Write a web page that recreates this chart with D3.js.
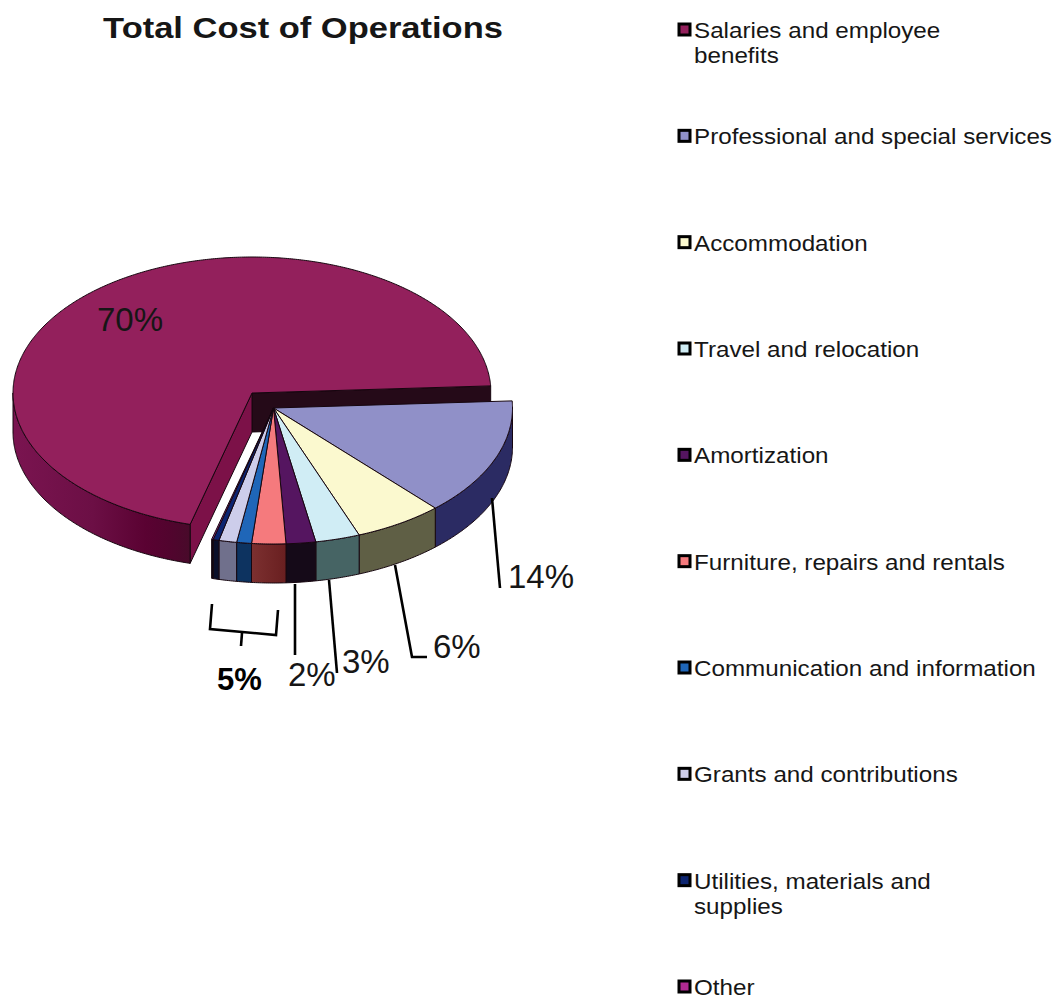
<!DOCTYPE html>
<html>
<head>
<meta charset="utf-8">
<title>Total Cost of Operations</title>
<script src="https://cdn.jsdelivr.net/npm/d3@7/dist/d3.min.js"></script>
<style>
  html, body { margin: 0; padding: 0; background: #fff; }
  svg { display: block; }
  text { font-family: "Liberation Sans", Arial, sans-serif; fill: #161616; }
</style>
</head>
<body>
<svg id="chart" width="1057" height="999"></svg>
<script>
// Share of total operating cost, in percent, clockwise from the large slice.
const categoryLines = [
  ["Salaries and employee", "benefits"],
  ["Professional and special services"],
  ["Accommodation"],
  ["Travel and relocation"],
  ["Amortization"],
  ["Furniture, repairs and rentals"],
  ["Communication and information"],
  ["Grants and contributions"],
  ["Utilities, materials and", "supplies"],
  ["Other"]
];
const shares = [70, 14, 6, 3, 2, 2.3, 1, 1.2, 0.4, 0.1];
const topColors = ["#93205c", "#9090c8", "#fbf9cf", "#d0edf5", "#551560", "#f57a7d", "#1f66b8", "#cdcdea", "#0c2470", "#a03090"];
const wallColors = ["url(#wallMain)", "#2b2b63", "#5f5f45", "#466464", "#150a18", "url(#wallFurniture)", "#0d3360", "#70708c", "#0a0f2a", "#0a0a14"];
const swatchColors = ["#93205c", "#9090c8", "#fbf9cf", "#d0edf5", "#551560", "#f57a7d", "#1f66b8", "#cdcdea", "#0c2470", "#b02a90"];

const svg = d3.select("#chart");

// Elliptical projection of the tilted pie.
const rx = 239, ry = 136, depth = 39;
const mainCentre = { x: 252, y: 393 };
const explodedCentre = { x: 273.5, y: 408 };
const deg = Math.PI / 180;

const pie = d3.pie().sort(null).value(d => d)
  .startAngle(195 * deg).endAngle((195 + 360) * deg);
const slices = pie(shares);

const defs = svg.append("defs");
function addGradient(id, stops) {
  const g = defs.append("linearGradient").attr("id", id)
    .attr("x1", "0%").attr("x2", "100%").attr("y1", "0%").attr("y2", "0%");
  stops.forEach(([o, c]) => g.append("stop").attr("offset", o).attr("stop-color", c));
}
addGradient("wallMain", [["0%", "#7a1450"], ["45%", "#6c0f45"], ["75%", "#5a0232"], ["88%", "#52042e"], ["100%", "#480a2a"]]);
addGradient("wallFurniture", [["0%", "#7c3030"], ["100%", "#691f20"]]);

const rimPoint = (c, a, drop = 0) => [c.x + rx * Math.sin(a), c.y - ry * Math.cos(a) + drop];
const line = d3.line();
const sweep = (a0, a1) => {
  const n = Math.max(2, Math.ceil((a1 - a0) / (0.5 * deg)));
  return d3.range(n + 1).map(i => a0 + (a1 - a0) * i / n);
};

function topPath(c, s) {
  return line([[c.x, c.y], ...sweep(s.startAngle, s.endAngle).map(a => rimPoint(c, a))]) + "Z";
}
// Outer wall: only the part of the rim facing the viewer.
function wallPath(c, s) {
  const bands = [[90 * deg, 270 * deg], [450 * deg, 630 * deg]];
  return bands.map(([lo, hi]) => {
    const a0 = Math.max(s.startAngle, lo), a1 = Math.min(s.endAngle, hi);
    if (a1 <= a0) return "";
    const arc = sweep(a0, a1);
    return line([...arc.map(a => rimPoint(c, a)), ...arc.slice().reverse().map(a => rimPoint(c, a, depth))]) + "Z";
  }).join("");
}
function radialWall(c, a) {
  return line([[c.x, c.y], rimPoint(c, a), rimPoint(c, a, depth), [c.x, c.y + depth]]) + "Z";
}

const edge = sel => sel.attr("stroke", "#16060f").attr("stroke-width", 1).attr("stroke-linejoin", "round");

// Large slice: cut faces, outer wall, then top.
const main = svg.append("g").attr("class", "slice-main");
const mainSlice = slices[0];
main.append("path").attr("d", radialWall(mainCentre, mainSlice.endAngle)).attr("fill", "#250a18").call(edge);
main.append("path").attr("d", radialWall(mainCentre, mainSlice.startAngle)).attr("fill", "#7c1148").call(edge);
main.append("path").attr("d", wallPath(mainCentre, mainSlice)).attr("fill", wallColors[0]).call(edge);
main.append("path").attr("d", topPath(mainCentre, mainSlice)).attr("fill", topColors[0]).call(edge);

// The other slices are pulled out together as one block.
const block = svg.append("g").attr("class", "slices-exploded");
const rest = slices.slice(1).map((s, i) => ({ s, i: i + 1 }));
block.selectAll("path.wall").data(rest).join("path").attr("class", "wall")
  .attr("d", d => wallPath(explodedCentre, d.s))
  .attr("fill", d => wallColors[d.i]).call(edge);
block.selectAll("path.top").data(rest).join("path").attr("class", "top")
  .attr("d", d => topPath(explodedCentre, d.s))
  .attr("fill", d => topColors[d.i]).call(edge);

// Title, set slightly wide
svg.append("text").attr("transform", "translate(303,38) scale(1.15,1)").attr("text-anchor", "middle")
  .attr("font-size", 30).attr("font-weight", "bold").text("Total Cost of Operations");

// Value labels and their leader lines
const valueLabels = [
  { text: "70%", x: 97, y: 331 },
  { text: "14%", x: 508, y: 588 },
  { text: "6%", x: 433, y: 658 },
  { text: "3%", x: 342, y: 673 },
  { text: "2%", x: 288, y: 686 }
];
svg.selectAll("text.value").data(valueLabels).join("text").attr("class", "value")
  .attr("x", d => d.x).attr("y", d => d.y).attr("font-size", 33).text(d => d.text);
svg.append("text").attr("x", 217).attr("y", 690).attr("font-size", 31).attr("font-weight", "bold")
  .style("fill", "#000").text("5%");

const leaders = [
  [[492, 498], [500, 588]],
  [[395, 565], [412, 657], [427, 657]],
  [[329, 580], [337, 673]],
  [[295, 584], [295, 655]],
  [[212, 604], [210, 629], [276, 635], [278, 610]],
  [[242, 633], [241, 646]]
];
svg.selectAll("path.leader").data(leaders).join("path").attr("class", "leader")
  .attr("d", d => line(d)).attr("fill", "none").attr("stroke", "#000").attr("stroke-width", 2.6);

// Legend
const legendY = d3.scaleLinear().domain([0, 9]).range([38, 995]);
const legend = svg.append("g").attr("class", "legend");
const rows = legend.selectAll("g").data(categoryLines).join("g")
  .attr("transform", (d, i) => `translate(0,${legendY(i)})`);
rows.append("rect").attr("x", 679).attr("y", -14).attr("width", 11).attr("height", 11)
  .attr("fill", (d, i) => swatchColors[i]).attr("stroke", "#000").attr("stroke-width", 3);
rows.each(function (lines) {
  d3.select(this).selectAll("text").data(lines).join("text")
    .attr("transform", (d, i) => `translate(694,${i * 25}) scale(1.132,1)`)
    .attr("font-size", 21.4).text(d => d);
});
</script>
</body>
</html>
